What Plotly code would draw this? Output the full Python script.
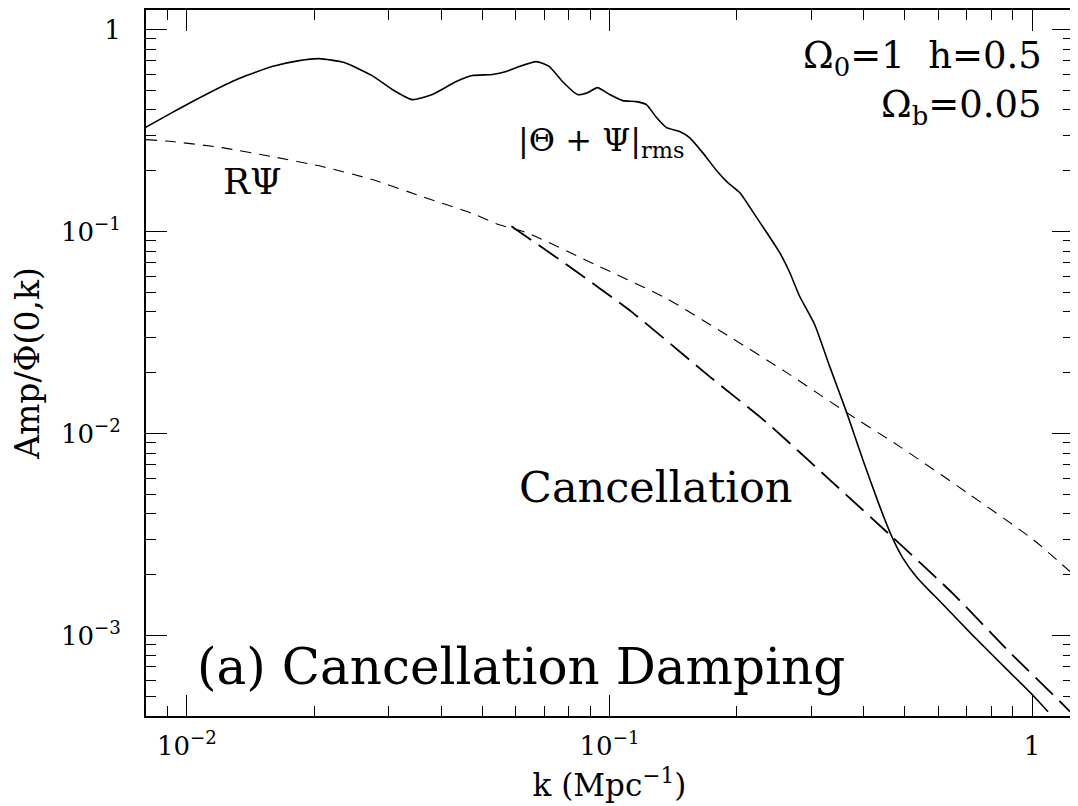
import plotly.graph_objects as go
import numpy as np

# ---- data ----
k_solid = [0.00796, 0.00922, 0.01109, 0.01328, 0.0159, 0.01843, 0.02055, 0.02355, 0.02744, 0.03061,
           0.03413, 0.03807, 0.04339, 0.04736, 0.05281, 0.0570, 0.0602, 0.06714, 0.07209, 0.07737,
           0.0840, 0.0887, 0.09368, 0.1001, 0.1075, 0.1159, 0.1223, 0.1292, 0.1365, 0.1465, 0.1547, 0.1661,
           0.1794, 0.1894, 0.2033, 0.2183, 0.2355, 0.2528, 0.2670, 0.2820, 0.3060, 0.3321,
           0.3643, 0.3977, 0.4362, 0.4658, 0.4946, 0.5340, 0.5730, 0.6053, 0.7247, 0.8726, 1.0055, 1.091]
amp_solid = [0.327, 0.388, 0.477, 0.572, 0.656, 0.702, 0.718, 0.687, 0.592, 0.505,
             0.450, 0.477, 0.553, 0.592, 0.599, 0.620, 0.648, 0.694, 0.656, 0.553,
             0.477, 0.487, 0.516, 0.477, 0.445, 0.440, 0.425, 0.367, 0.327, 0.313, 0.292, 0.246,
             0.2000, 0.1768, 0.156, 0.1256, 0.0989, 0.0787, 0.0627, 0.0477, 0.0346, 0.02146,
             0.0127, 0.00743, 0.00435, 0.00309, 0.00242, 0.00194, 0.00166, 0.001480, 0.001, 0.000679, 0.000505, 0.000420]

k_rpsi = [0.0080, 0.00922, 0.0121, 0.0159, 0.02089, 0.02744, 0.03605, 0.04736, 0.05486, 0.06357,
          0.0947, 0.1365, 0.1956, 0.2627, 0.3643, 0.4866, 0.7015, 1.0055, 1.23]
amp_rpsi = [0.2853, 0.279, 0.2604, 0.2351, 0.2098, 0.1809, 0.149, 0.1228, 0.1080, 0.0989,
            0.0671, 0.0466, 0.02954, 0.02004, 0.0127, 0.00862, 0.0051, 0.00299, 0.002074]

k_cancel = [0.0586, 0.0791, 0.1134, 0.1726, 0.2355, 0.3376, 0.4658, 0.6497, 0.8726, 1.165, 1.23]
amp_cancel = [0.1063, 0.0687, 0.0397, 0.01915, 0.01134, 0.00572, 0.00309, 0.001614, 0.000853, 0.000471, 0.00042]

x_major = [0.01, 0.1, 1]
x_major_text = ["10<sup>−2</sup>", "10<sup>−1</sup>", "1"]
y_major = [0.001, 0.01, 0.1, 1]
y_major_text = ["10<sup>−3</sup>", "10<sup>−2</sup>", "10<sup>−1</sup>", "1"]
minor_vals = [m * 10.0 ** e for e in range(-4, 1) for m in range(2, 10)]

FONT = "DejaVu Serif"

fig = go.Figure()
fig.add_trace(go.Scatter(x=k_rpsi, y=amp_rpsi, mode="lines",
                         line=dict(color="black", width=1.1, dash="11px,8px", shape="spline", smoothing=0.6),
                         showlegend=False))
fig.add_trace(go.Scatter(x=k_cancel, y=amp_cancel, mode="lines",
                         line=dict(color="black", width=1.8, dash="24px,9px", shape="spline", smoothing=0.6),
                         showlegend=False))
fig.add_trace(go.Scatter(x=k_solid, y=amp_solid, mode="lines",
                         line=dict(color="black", width=1.6, shape="spline", smoothing=0.5),
                         showlegend=False))

axis_common = dict(
    type="log", showgrid=False, zeroline=False, showline=True, linecolor="black", linewidth=2,
    ticks="inside", ticklen=21, tickwidth=1.3, tickcolor="black", mirror="ticks",
    tickmode="array",
    minor=dict(tickmode="array", tickvals=minor_vals, ticks="inside", ticklen=10,
               tickwidth=1.2, tickcolor="black", showgrid=False),
    tickfont=dict(family=FONT, size=26, color="black"),
    automargin=False,
)

fig.update_xaxes(**axis_common, range=[np.log10(0.008), np.log10(1.25)],
                 tickvals=x_major, ticktext=x_major_text, ticklabelstandoff=6,
                 title=dict(text="k (Mpc<sup>−1</sup>)", font=dict(family=FONT, size=31, color="black"),
                            standoff=14))
fig.update_yaxes(**axis_common, range=[np.log10(4e-4), np.log10(1.25)],
                 tickvals=y_major, ticktext=y_major_text, ticklabelstandoff=18,
                 title=dict(text="Amp/Φ(0,k)", font=dict(family=FONT, size=33, color="black"),
                            standoff=14))

# page has an 8px body margin: figure is drawn 8px right/down inside the 1078x806 window
W, H = 1068, 796
ML, MT, MR, MB = 138, 2, 3, 88
pw, ph = W - ML - MR, H - MT - MB
OFF = 8


def px(x):  # x in window pixels of the reference
    return (x - OFF - ML) / pw


def py(y):  # y in window pixels of the reference
    return (H - MB - (y - OFF)) / ph


ann = [
    dict(text="RΨ", x=px(221), y=py(181), xanchor="left", yanchor="middle", size=36),
    dict(text="|Θ + Ψ|<sub>rms</sub>", x=px(516), y=py(142), xanchor="left", yanchor="middle", size=32),
    dict(text="Ω<sub>0</sub>=1  h=0.5", x=px(1044), y=py(58), xanchor="right", yanchor="middle", size=37),
    dict(text="Ω<sub>b</sub>=0.05", x=px(1044), y=py(107), xanchor="right", yanchor="middle", size=37),
    dict(text="Cancellation", x=px(656), y=py(487), xanchor="center", yanchor="middle", size=43),
    dict(text="(a) Cancellation Damping", x=px(195), y=py(667), xanchor="left", yanchor="middle", size=50),
]
for a in ann:
    fig.add_annotation(text=a["text"], x=a["x"], y=a["y"], xref="paper", yref="paper",
                       xanchor=a["xanchor"], yanchor=a["yanchor"], showarrow=False,
                       font=dict(family=FONT, size=a["size"], color="black"))

fig.update_layout(width=W, height=H, margin=dict(l=ML, r=MR, t=MT, b=MB),
                  plot_bgcolor="white", paper_bgcolor="white",
                  font=dict(family=FONT, color="black"))

fig.write_html("out.html")
